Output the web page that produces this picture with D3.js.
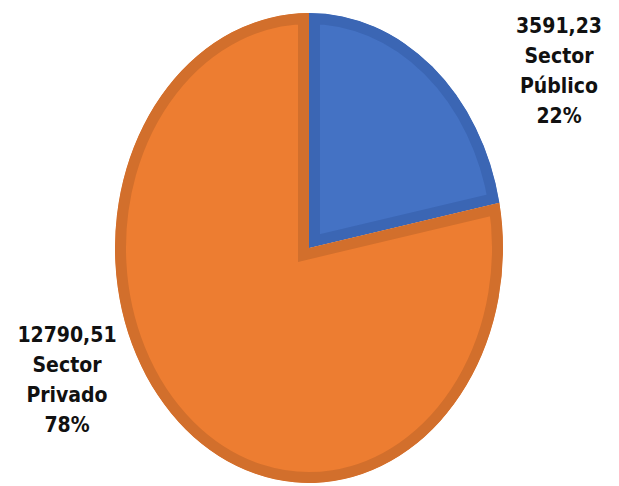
<!DOCTYPE html>
<html>
<head>
<meta charset="utf-8">
<script src="https://cdn.jsdelivr.net/npm/d3@7"></script>
<style>
  html, body { margin: 0; padding: 0; background: #fff; }
  svg text { font-family: "DejaVu Sans Condensed", "DejaVu Sans", sans-serif; font-stretch: condensed; font-weight: bold; font-size: 21px; fill: #111; }
</style>
</head>
<body>
<svg id="chart"></svg>
<script>
let categories = ["Sector Público", "Sector Privado"];
let values = [3591.23, 12790.51];
let fills = ["#4472c4", "#ed7d31"];
let borders = ["#3b66b4", "#d26f2c"];

let svgWidth = 619, svgHeight = 486;
let cx = 309, cy = 248, rx = 194, ry = 235;

// label anchors (centre of each text block, first baseline)
let labelAt = [{x: 559, y: 33}, {x: 67, y: 342}];
let lineGap = 30;

let locale = d3.formatLocale({decimal: ",", thousands: "", grouping: [3], currency: ["", ""]});
let fmt = locale.format(".2f");
let total = d3.sum(values);

let svg = d3.select("#chart")
    .attr("width", svgWidth)
    .attr("height", svgHeight);

let pie = d3.pie().sort(null).value(function(d) { return d; });
let arcs = pie(values);

// unit circle arc, stretched into an ellipse
let arc = d3.arc().innerRadius(0).outerRadius(100);

let g = svg.append("g")
    .attr("transform", "translate(" + cx + "," + cy + ") scale(" + (rx / 100) + "," + (ry / 100) + ")");

let defs = svg.append("defs");
defs.selectAll("clipPath")
    .data(arcs)
    .enter()
    .append("clipPath")
    .attr("id", function(d, i) { return "clip" + i; })
    .append("path")
    .attr("d", arc);

g.selectAll(".slice")
    .data(arcs)
    .enter()
    .append("path")
    .attr("class", "slice")
    .attr("d", arc)
    .attr("clip-path", function(d, i) { return "url(#clip" + i + ")"; })
    .style("fill", function(d, i) { return fills[i]; })
    .style("stroke", function(d, i) { return borders[i]; })
    .style("stroke-width", 22)
    .style("stroke-linejoin", "miter")
    .attr("vector-effect", "non-scaling-stroke");

let labels = svg.selectAll(".lbl")
    .data(arcs)
    .enter()
    .append("text")
    .attr("class", "lbl")
    .attr("text-anchor", "middle");

labels.each(function(d, i) {
    let words = categories[i].split(" ");
    let lines = [fmt(d.value)].concat(words).concat([Math.round(d.value / total * 100) + "%"]);
    d3.select(this).selectAll("tspan")
        .data(lines)
        .enter()
        .append("tspan")
        .attr("x", labelAt[i].x)
        .attr("y", function(t, j) { return labelAt[i].y + j * lineGap; })
        .text(function(t) { return t; });
});
</script>
</body>
</html>
